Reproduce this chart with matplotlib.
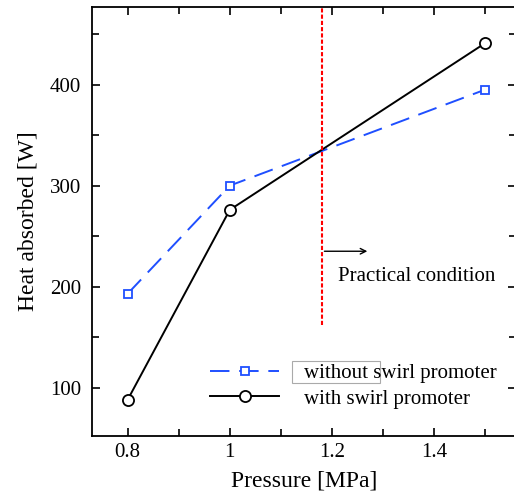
import matplotlib
matplotlib.use("Agg")
import matplotlib.pyplot as plt
from matplotlib.patches import Rectangle

pressure = [0.8, 1.0, 1.5]
heat_without = [193, 300, 395]
heat_with = [88, 276, 441]
practical_x = 1.18


def main():
    plt.rcParams["font.family"] = ["Liberation Serif", "DejaVu Serif"]

    fig = plt.figure(figsize=(5.14, 4.96), dpi=100)
    ax = fig.add_axes([0.179, 0.121, 0.824, 0.865])

    ax.plot(pressure, heat_without, color="#1f4fff", ls=(0, (10, 5)), lw=1.4,
            marker="s", ms=6, mfc="white", mec="#1f4fff", mew=1.3,
            label="without swirl promoter")
    ax.plot(pressure, heat_with, color="black", lw=1.4,
            marker="o", ms=8, mfc="white", mec="black", mew=1.3,
            label="with swirl promoter")

    ax.plot([practical_x, practical_x], [162, 480], color="red", ls=(0, (2, 1)), lw=1.5)
    ax.annotate("", xy=(1.275, 235), xytext=(practical_x, 235),
                arrowprops=dict(arrowstyle="->", color="black", lw=1.0))
    ax.text(1.213, 210, "Practical condition", fontsize=15, va="center", ha="left")

    ax.set_xlim(0.73, 1.56)
    ax.set_ylim(52, 477)
    ax.set_xticks([0.8, 1.0, 1.2, 1.4])
    ax.set_xticklabels(["0.8", "1", "1.2", "1.4"])
    ax.set_xticks([0.9, 1.1, 1.3, 1.5], minor=True)
    ax.set_yticks([100, 200, 300, 400])
    ax.set_yticks([150, 250, 350, 450], minor=True)
    ax.tick_params(which="both", direction="in", top=True, right=True,
                   labelsize=15, width=1.2)
    ax.tick_params(which="major", length=6)
    ax.tick_params(which="minor", length=5)
    ax.tick_params(axis="x", pad=5)
    ax.tick_params(axis="y", pad=8)
    for sp in ax.spines.values():
        sp.set_linewidth(1.3)

    ax.set_xlabel("Pressure [MPa]", fontsize=17, labelpad=6)
    ax.set_ylabel("Heat absorbed [W]", fontsize=17, labelpad=8)

    ax.legend(loc="lower right", bbox_to_anchor=(1.0, 0.02), frameon=False,
              fontsize=15, handlelength=3.3, handletextpad=1.2,
              labelspacing=0.3)

    # grey box around "without" as in the original figure
    ax.add_patch(Rectangle((0.473, 0.1235), 0.206, 0.051, transform=ax.transAxes,
                           fill=False, edgecolor="#aaaaaa", lw=0.8))

    fig.savefig("out.png", dpi=100)


if __name__ == "__main__":
    main()
